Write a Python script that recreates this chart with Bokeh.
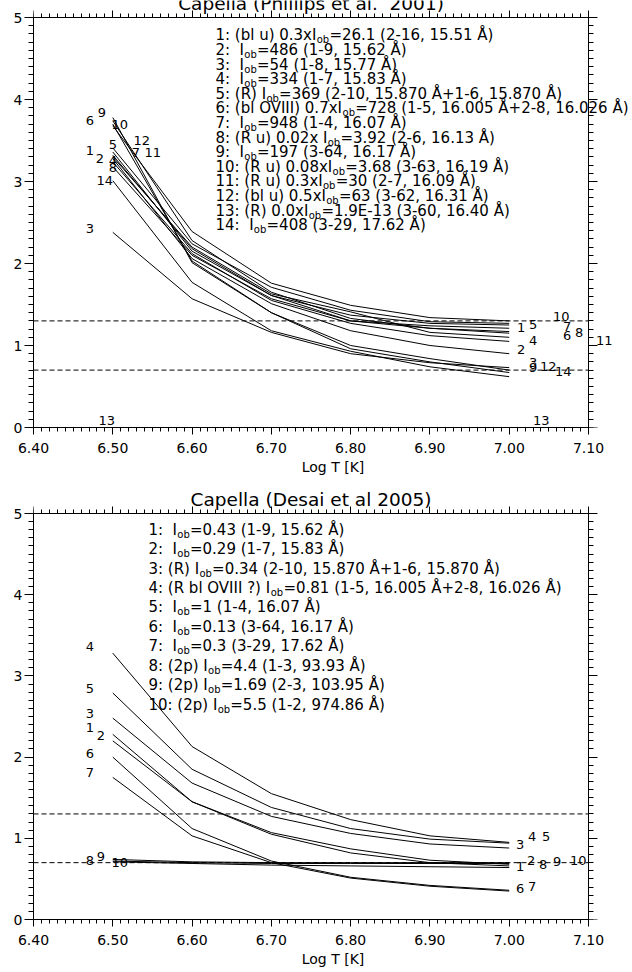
from bokeh.plotting import figure
from bokeh.models import (Range1d, FixedTicker, LinearAxis, LabelSet, Label,
                          ColumnDataSource, PrintfTickFormatter, CustomJSTickFormatter)
from bokeh.layouts import column
from bokeh.embed import file_html
from bokeh.resources import INLINE
from bokeh.core.properties import value

# ---------------- data ----------------
logT = [6.5, 6.6, 6.7, 6.8, 6.9, 7.0]

# Phillips et al. 2001 (top panel), lines 1..14
ph_1 = [3.32, 2.18, 1.61, 1.37, 1.27, 1.25]
ph_2 = [3.28, 2.06, 1.51, 1.18, 1.00, 0.90]
ph_3 = [2.38, 1.57, 1.16, 0.90, 0.79, 0.73]
ph_4 = [3.24, 2.12, 1.55, 1.27, 1.12, 1.05]
ph_5 = [3.41, 2.24, 1.71, 1.43, 1.29, 1.27]
ph_6 = [3.74, 2.28, 1.65, 1.33, 1.21, 1.15]
ph_7 = [3.36, 2.15, 1.61, 1.30, 1.24, 1.21]
ph_8 = [3.18, 2.10, 1.57, 1.30, 1.21, 1.17]
ph_9 = [3.78, 2.01, 1.40, 1.00, 0.84, 0.70]
ph_10 = [3.68, 2.39, 1.76, 1.49, 1.34, 1.30]
ph_11 = [3.30, 2.20, 1.63, 1.41, 1.16, 1.10]
ph_12 = [3.70, 2.03, 1.40, 0.96, 0.80, 0.67]
ph_13 = [0.0, 0.0, 0.0, 0.0, 0.0, 0.0]
ph_14 = [3.01, 1.77, 1.18, 0.93, 0.74, 0.62]
phillips_series = [ph_1, ph_2, ph_3, ph_4, ph_5, ph_6, ph_7, ph_8, ph_9, ph_10,
                   ph_11, ph_12, ph_13, ph_14]
phillips_ids = [str(i) for i in range(1, 15)]

# Desai et al 2005 (bottom panel), lines 1..10
de_1 = [2.28, 1.45, 1.07, 0.87, 0.73, 0.68]
de_2 = [2.20, 1.45, 1.05, 0.82, 0.70, 0.66]
de_3 = [2.48, 1.68, 1.27, 1.06, 0.93, 0.88]
de_4 = [3.28, 2.13, 1.55, 1.23, 1.03, 0.95]
de_5 = [2.79, 1.85, 1.38, 1.12, 0.99, 0.94]
de_6 = [2.00, 1.12, 0.72, 0.52, 0.42, 0.36]
de_7 = [1.75, 1.03, 0.70, 0.51, 0.41, 0.35]
de_8 = [0.74, 0.71, 0.70, 0.70, 0.70, 0.70]
de_9 = [0.72, 0.70, 0.69, 0.69, 0.69, 0.69]
de_10 = [0.71, 0.69, 0.67, 0.66, 0.65, 0.64]
desai_series = [de_1, de_2, de_3, de_4, de_5, de_6, de_7, de_8, de_9, de_10]
desai_ids = [str(i) for i in range(1, 11)]

ref_levels = [1.3, 0.7]

x_ticks = [6.4, 6.5, 6.6, 6.7, 6.8, 6.9, 7.0, 7.1]
y_ticks = [0, 1, 2, 3, 4, 5]

phillips_title = "Capella (Phillips et al.  2001)"
desai_title = "Capella (Desai et al 2005)"

phillips_legend = [
    "1: (bl u) 0.3xI_ob=26.1 (2-16, 15.51 Å)",
    "2:  I_ob=486 (1-9, 15.62 Å)",
    "3:  I_ob=54 (1-8, 15.77 Å)",
    "4:  I_ob=334 (1-7, 15.83 Å)",
    "5: (R) I_ob=369 (2-10, 15.870 Å+1-6, 15.870 Å)",
    "6: (bl OVIII) 0.7xI_ob=728 (1-5, 16.005 Å+2-8, 16.026 Å)",
    "7:  I_ob=948 (1-4, 16.07 Å)",
    "8: (R u) 0.02x I_ob=3.92 (2-6, 16.13 Å)",
    "9:  I_ob=197 (3-64, 16.17 Å)",
    "10: (R u) 0.08xI_ob=3.68 (3-63, 16.19 Å)",
    "11: (R u) 0.3xI_ob=30 (2-7, 16.09 Å)",
    "12: (bl u) 0.5xI_ob=63 (3-62, 16.31 Å)",
    "13: (R) 0.0xI_ob=1.9E-13 (3-60, 16.40 Å)",
    "14:  I_ob=408 (3-29, 17.62 Å)",
]
desai_legend = [
    "1:  I_ob=0.43 (1-9, 15.62 Å)",
    "2:  I_ob=0.29 (1-7, 15.83 Å)",
    "3: (R) I_ob=0.34 (2-10, 15.870 Å+1-6, 15.870 Å)",
    "4: (R bl OVIII ?) I_ob=0.81 (1-5, 16.005 Å+2-8, 16.026 Å)",
    "5:  I_ob=1 (1-4, 16.07 Å)",
    "6:  I_ob=0.13 (3-64, 16.17 Å)",
    "7:  I_ob=0.3 (3-29, 17.62 Å)",
    "8: (2p) I_ob=4.4 (1-3, 93.93 Å)",
    "9: (2p) I_ob=1.69 (2-3, 103.95 Å)",
    "10: (2p) I_ob=5.5 (1-2, 974.86 Å)",
]

# ---------------- layout (pixel offsets of the curve labels, screen-down) ----------------
ph_left_off = [(-23, -5), (-13, 0), (-23, -4), (0, -1), (0, -3), (-23, 0), (23, 1),
               (0, 1), (-11, -5), (7, -1), (40, -4), (29, 16), (-6, -7), (-8, 0)]
ph_right_off = [(12, 2), (12, -4), (24, -5), (24, -1), (24, 1), (58, 2), (58, -2),
                (70, 1), (24, -3), (52, -4), (95, 3), (39, -6), (32, -7), (54, -5)]
de_left_off = [(-23, -7), (-12, -5), (-23, -5), (-23, -7), (-23, -4), (-23, -4),
               (-23, -5), (-23, 1), (-12, -5), (7, 1)]
de_right_off = [(11, 2), (22, -5), (11, -4), (23, -6), (37, -7), (11, -2), (23, -5),
                (34, 2), (48, -2), (69, -7)]

FONT = "DejaVu Sans"
LEG = 15.0
SUB = 10.0
W = 632
FRAME_L, FRAME_R = 33, 588          # pixel columns of x = 6.4 and x = 7.1

ADV = {' ': 651, '\u00a0': 651, '(': 799, ')': 799, '+': 1716, ',': 651, '-': 739,
       '.': 651, ':': 690, '=': 1716, '?': 1087, 'A': 1401, 'E': 1294, 'I': 604,
       'O': 1612, 'R': 1423, 'V': 1401, 'Å': 1401, 'b': 1300, 'l': 569, 'u': 1298,
       'x': 1212, 'o': 1253, 'p': 1300}


def text_w(s, size):
    return sum(ADV.get(c, 1303 if c.isdigit() else 1250) for c in s) / 2048.0 * size


BLANK = CustomJSTickFormatter(code="return ''")


def style_axis(ax, t_in, t_out, m_in, m_out):
    ax.major_tick_in = t_in
    ax.major_tick_out = t_out
    ax.minor_tick_in = m_in
    ax.minor_tick_out = m_out
    ax.axis_line_color = "black"
    ax.major_tick_line_color = "black"
    ax.minor_tick_line_color = "black"


def make_fig(height, top_px, bottom_px):
    x0, x1 = x_ticks[0], x_ticks[-1]
    y0, y1 = y_ticks[0], y_ticks[-1]
    xs = (x1 - x0) / (FRAME_R - FRAME_L)
    ys = (y1 - y0) / (bottom_px - top_px)
    p = figure(width=W, height=height,
               x_range=Range1d(x0, x1 + (W - FRAME_R) * xs),
               y_range=Range1d(y0, y1 + top_px * ys),
               output_backend="svg", toolbar_location=None,
               x_axis_location=None, y_axis_location=None,
               min_border_left=FRAME_L, min_border_right=0,
               min_border_top=0, min_border_bottom=height - bottom_px)
    p.xgrid.visible = False
    p.ygrid.visible = False
    p.outline_line_color = None
    p.background_fill_color = "white"
    p.border_fill_color = "white"
    x_minor = [round(6.4 + 0.01 * i, 2) for i in range(71)]
    y_minor = [round(0.1 * i, 1) for i in range(51)]
    xt = FixedTicker(ticks=x_ticks, minor_ticks=x_minor)
    yt = FixedTicker(ticks=y_ticks, minor_ticks=y_minor)

    # bottom axis (with labels)
    axb = LinearAxis(ticker=xt, formatter=PrintfTickFormatter(format="%.2f"),
                     bounds=(x0, x1))
    style_axis(axb, 0, 7, 0, 4)
    axb.major_label_text_font = FONT
    axb.major_label_text_font_size = "14px"
    axb.major_label_text_color = "black"
    axb.major_label_standoff = 8
    axb.axis_label = "Log T [K]"
    axb.axis_label_text_font = FONT
    axb.axis_label_text_font_size = "14px"
    axb.axis_label_text_font_style = "normal"
    axb.axis_label_text_color = "black"
    axb.axis_label_standoff = 3
    p.add_layout(axb, "below")
    # top edge of the box, drawn at y = 5, ticks pointing up
    axt = LinearAxis(ticker=xt, formatter=BLANK, bounds=(x0, x1), fixed_location=y1)
    style_axis(axt, 7, 0, 4, 0)
    axt.major_label_standoff = 0
    p.add_layout(axt, "below")

    # left axis (with labels)
    axl = LinearAxis(ticker=yt, formatter=PrintfTickFormatter(format="%d"),
                     bounds=(y0, y1))
    style_axis(axl, 0, 9, 0, 5)
    axl.major_label_text_font = FONT
    axl.major_label_text_font_size = "14px"
    axl.major_label_text_color = "black"
    axl.major_label_standoff = 2
    p.add_layout(axl, "left")
    # right edge of the box, drawn at x = 7.1, ticks pointing right
    axr = LinearAxis(ticker=yt, formatter=BLANK, bounds=(y0, y1), fixed_location=x1)
    style_axis(axr, 9, 0, 5, 0)
    axr.major_label_standoff = 0
    p.add_layout(axr, "left")

    for lv in ref_levels:
        p.segment(x0=[x0], y0=[lv], x1=[x1], y1=[lv], line_color="black",
                  line_width=1, line_dash="5 3")
    return p


def draw_panel(p, series, ids, left_off, right_off):
    for s in series:
        p.line(logT, s, line_color="black", line_width=1)
    for idx, offs in ((0, left_off), (-1, right_off)):
        src = ColumnDataSource(dict(
            x=[logT[idx]] * len(series),
            y=[s[idx] for s in series],
            text=ids,
            xo=[o[0] for o in offs],
            yo=[-o[1] for o in offs],
        ))
        p.add_layout(LabelSet(x="x", y="y", text="text", x_offset="xo", y_offset="yo",
                              source=src, text_font=value(FONT),
                              text_font_size=value("13px"), text_color="black",
                              text_align="center", text_baseline="middle"))


def draw_legend(p, lines, x0, y0, dy):
    main = dict(x=[], y=[], text=[], xo=[])
    sub = dict(x=[], y=[], text=[], xo=[])
    for i, s in enumerate(lines):
        pre, post = s.split("_ob")
        pre = pre.replace("  ", " \u00a0")
        y = y0 - i * dy
        w1 = text_w(pre, LEG)
        w2 = text_w("ob", SUB)
        main["x"] += [x0, x0]
        main["y"] += [y, y]
        main["text"] += [pre, post]
        main["xo"] += [0, w1 + w2 + 0.5]
        sub["x"].append(x0)
        sub["y"].append(y)
        sub["text"].append("ob")
        sub["xo"].append(w1 + 0.3)
    p.add_layout(LabelSet(x="x", y="y", text="text", x_offset="xo",
                          source=ColumnDataSource(main), text_font=value(FONT),
                          text_font_size=value("%gpx" % LEG), text_color="black",
                          text_align="left", text_baseline="alphabetic"))
    p.add_layout(LabelSet(x="x", y="y", text="text", x_offset="xo", y_offset=-3,
                          source=ColumnDataSource(sub), text_font=value(FONT),
                          text_font_size=value("%gpx" % SUB), text_color="black",
                          text_align="left", text_baseline="alphabetic"))


def add_title(p, txt):
    p.add_layout(Label(x=(x_ticks[0] + x_ticks[-1]) / 2, y=y_ticks[-1],
                       text=txt.replace("  ", " \u00a0"),
                       y_offset=14, text_font=FONT,
                       text_font_size="18.5px", text_color="black",
                       text_align="center", text_baseline="alphabetic"))


p1 = make_fig(486, 17, 427)
draw_panel(p1, phillips_series, phillips_ids, ph_left_off, ph_right_off)
draw_legend(p1, phillips_legend, 6.6295, 4.72, 0.178)
add_title(p1, phillips_title)

p2 = make_fig(486, 27, 433)
draw_panel(p2, desai_series, desai_ids, de_left_off, de_right_off)
draw_legend(p2, desai_legend, 6.545, 4.741, 0.240)
add_title(p2, desai_title)

layout = column(p1, p2, spacing=0)
open("out.html", "w").write(file_html(layout, INLINE))
